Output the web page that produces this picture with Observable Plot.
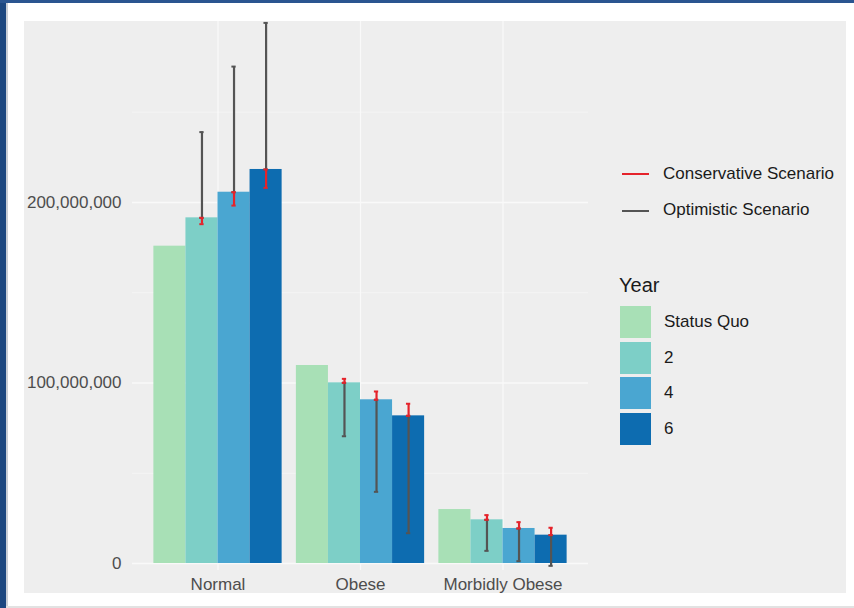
<!DOCTYPE html>
<html>
<head>
<meta charset="utf-8">
<script src="https://cdn.jsdelivr.net/npm/d3@7"></script>
<script src="https://cdn.jsdelivr.net/npm/@observablehq/plot@0.6"></script>
<style>
  body { margin:0; width:854px; height:608px; position:relative; overflow:hidden; background:#fff; font-family:"Liberation Sans", Arial, sans-serif; }
  .abs { position:absolute; }
  #panel { left:24px; top:21px; width:822px; height:572px; background:#eeeeee; }
  #panel svg { position:absolute; left:0; top:0; }
  .lg-text { position:absolute; font-size:17px; color:#1a1a1a; white-space:nowrap; line-height:20px; }
</style>
</head>
<body>
<div class="abs" style="left:0;top:0;width:6px;height:608px;background:#1c4780"></div>
<div class="abs" style="left:6px;top:0;width:2px;height:608px;background:#c9ced6"></div>
<div class="abs" style="left:0;top:0;width:854px;height:2.5px;background:#2a5590"></div>
<div class="abs" style="left:6px;top:606px;width:848px;height:2px;background:#e2e2e2"></div>
<div id="panel" class="abs"></div>
<div id="legend"></div>
<script>
// ---- data (values in millions) ----
const categories = ["Normal", "Obese", "Morbidly Obese"];
const years = ["Status Quo", "2", "4", "6"];
const yearColors = ["#a8e0b6", "#7dcfc7", "#4aa6d1", "#0d6cb0"];
const statusQuo = [175.8, 109.7, 29.9];
const year2 = [191.5, 100.1, 24.2];
const year4 = [205.7, 90.7, 19.4];
const year6 = [218.3, 81.8, 15.7];
const conservative2 = [188.0, 102.3, 26.8];
const conservative4 = [198.3, 95.3, 22.9];
const conservative6 = [208.1, 88.5, 19.8];
const optimistic2 = [239.0, 70.5, 7.0];
const optimistic4 = [275.3, 39.7, 1.3];
const optimistic6 = [299.5, 16.8, -1.3];
const scenarioNames = ["Conservative Scenario", "Optimistic Scenario"];
const scenarioColors = ["#e5232b", "#545454"];
const yTicks = [0, 100e6, 200e6];
const yMinorTicks = [50e6, 150e6, 250e6];

// ---- build tables ----
const M = 1e6;
const barWidth = 0.9 / years.length;     // ggplot dodge width 0.9
const capHalf = 0.015;                   // errorbar cap half width (x units)
const seriesByYear = [statusQuo, year2, year4, year6];
const bars = [];
categories.forEach((c, ci) => {
  years.forEach((y, yi) => {
    const x1 = (ci + 1) - 0.45 + yi * barWidth;
    bars.push({category: c, year: y, value: seriesByYear[yi][ci] * M, x1, x2: x1 + barWidth, xc: x1 + barWidth / 2});
  });
});
const consByYear = {"2": conservative2, "4": conservative4, "6": conservative6};
const optByYear = {"2": optimistic2, "4": optimistic4, "6": optimistic6};
const errCons = [], errOpt = [];
bars.forEach((b) => {
  if (b.year === "Status Quo") return;
  const ci = categories.indexOf(b.category);
  errCons.push({x: b.xc, y1: b.value, y2: consByYear[b.year][ci] * M});
  errOpt.push({x: b.xc, y1: b.value, y2: optByYear[b.year][ci] * M});
});
const caps = (rows) => rows.flatMap(r => [
  {x1: r.x - capHalf, x2: r.x + capHalf, y: r.y1},
  {x1: r.x - capHalf, x2: r.x + capHalf, y: r.y2}
]);

const chart = Plot.plot({
  width: 580,
  height: 572,
  marginLeft: 108,
  marginRight: 16,
  marginTop: 0,
  marginBottom: 23,
  style: {background: "transparent", fontFamily: "'Liberation Sans', Arial, sans-serif", fontSize: "17px", color: "#4d4d4d", overflow: "visible"},
  x: {domain: [0.4, 3.6], ticks: [1, 2, 3], tickFormat: d => categories[d - 1], tickSize: 0, tickPadding: 7, label: null},
  y: {domain: [-3.88e6, 300.28e6], ticks: yTicks, tickFormat: d3.format(","), tickSize: 0, tickPadding: 11, label: null},
  color: {domain: years, range: yearColors},
  marks: [
    Plot.ruleY(yMinorTicks, {stroke: "#f4f4f4", strokeWidth: 1}),
    Plot.ruleY(yTicks, {stroke: "#f9f9f9", strokeWidth: 1.3}),
    Plot.ruleX([1, 2, 3], {stroke: "#f9f9f9", strokeWidth: 1.3}),
    Plot.rectY(bars, {x1: "x1", x2: "x2", y: "value", fill: "year"}),
    Plot.ruleX(errOpt, {x: "x", y1: "y1", y2: "y2", stroke: scenarioColors[1], strokeWidth: 2.2}),
    Plot.ruleY(caps(errOpt), {x1: "x1", x2: "x2", y: "y", stroke: scenarioColors[1], strokeWidth: 2}),
    Plot.ruleX(errCons, {x: "x", y1: "y1", y2: "y2", stroke: scenarioColors[0], strokeWidth: 2.2}),
    Plot.ruleY(caps(errCons), {x1: "x1", x2: "x2", y: "y", stroke: scenarioColors[0], strokeWidth: 2})
  ]
});
document.getElementById("panel").appendChild(chart);

// ---- legend ----
const lg = document.getElementById("legend");
const add = (html) => lg.insertAdjacentHTML("beforeend", html);
const lineYs = [174, 210.5];
scenarioNames.forEach((n, i) => {
  add(`<div class="abs" style="left:622px;top:${lineYs[i] - 1}px;width:27px;height:2px;background:${scenarioColors[i]}"></div>`);
  add(`<div class="lg-text" style="left:663px;top:${lineYs[i] - 10.5}px">${n}</div>`);
});
add(`<div class="lg-text" style="left:619px;top:273px;font-size:20px;line-height:24px">Year</div>`);
const keyTops = [306, 341.5, 377, 412.7];
years.forEach((y, i) => {
  add(`<div class="abs" style="left:620px;top:${keyTops[i]}px;width:31px;height:32px;background:${yearColors[i]}"></div>`);
  add(`<div class="lg-text" style="left:664px;top:${keyTops[i] + 6}px">${y}</div>`);
});
</script>
</body>
</html>
